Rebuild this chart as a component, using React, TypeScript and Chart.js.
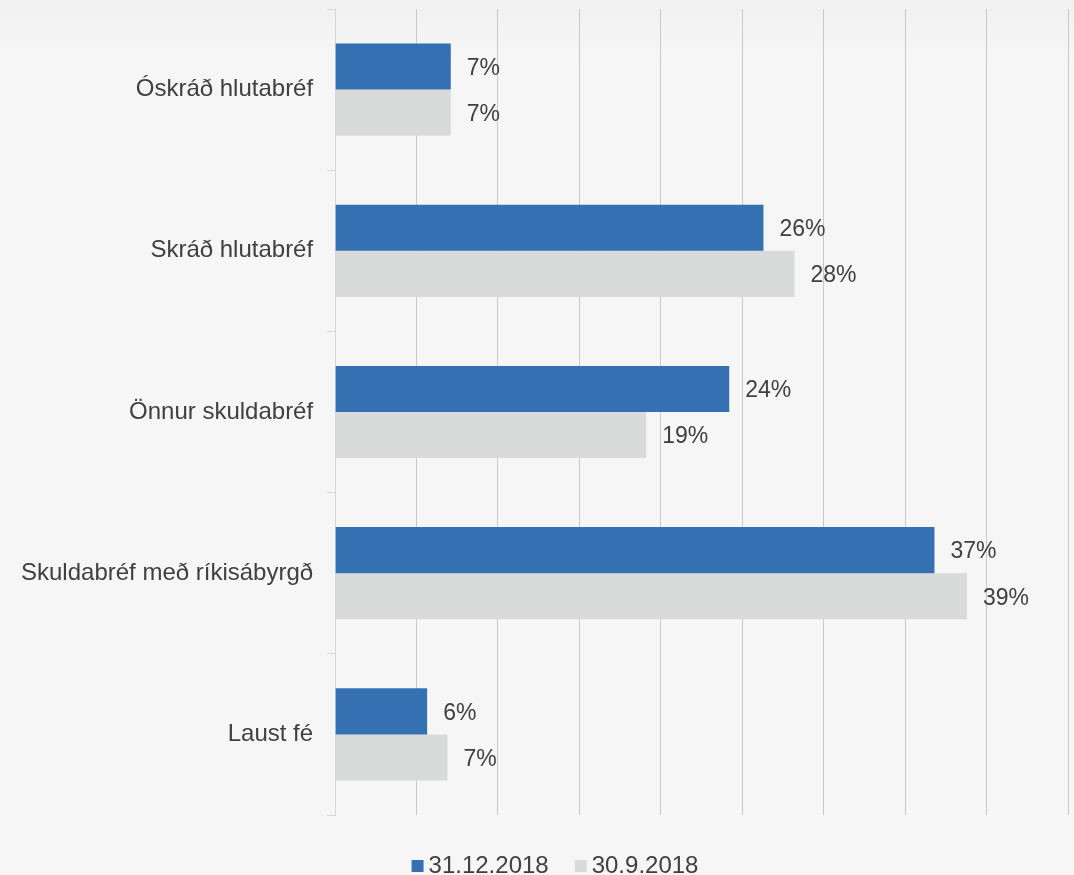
import React, { useEffect, useRef } from "react";
import { Chart, registerables } from "chart.js";

Chart.register(...registerables);

const categories = [
  "Óskráð hlutabréf",
  "Skráð hlutabréf",
  "Önnur skuldabréf",
  "Skuldabréf með ríkisábyrgð",
  "Laust fé",
];
const seriesDec = [7.1, 26.3, 24.2, 36.8, 5.65];
const seriesSep = [7.1, 28.2, 19.1, 38.8, 6.9];
const seriesNames = ["31.12.2018", "30.9.2018"];

const FONT = "'Liberation Sans', Arial, sans-serif";
const TEXT = "#404040";

const labelPlugin = {
  id: "barValueLabels",
  afterDatasetsDraw(chart: any) {
    const ctx = chart.ctx;
    ctx.save();
    ctx.font = `23px ${FONT}`;
    ctx.fillStyle = TEXT;
    ctx.textAlign = "left";
    ctx.textBaseline = "middle";
    chart.data.datasets.forEach((ds: any, di: number) => {
      const meta = chart.getDatasetMeta(di);
      meta.data.forEach((el: any, i: number) => {
        const v = ds.data[i];
        ctx.fillText(Math.round(v) + "%", el.x + 16, el.y + 2);
      });
    });
    ctx.restore();
  },
};

const legendPlugin = {
  id: "bottomLegend",
  afterDraw(chart: any) {
    const ctx = chart.ctx;
    ctx.save();
    ctx.font = `24px ${FONT}`;
    ctx.textBaseline = "middle";
    ctx.textAlign = "left";
    const box = 12;
    const gapBoxText = 5;
    const gapItems = 26;
    const items = chart.data.datasets.map((ds: any) => ({
      label: ds.label,
      color: ds.backgroundColor,
      w: ctx.measureText(ds.label).width,
    }));
    const total = items.reduce(
      (s: number, it: any, i: number) => s + box + gapBoxText + it.w + (i > 0 ? gapItems : 0),
      0
    );
    let x = chart.width / 2 + 18 - total / 2;
    const cy = chart.height - 9;
    items.forEach((it: any) => {
      ctx.fillStyle = it.color;
      ctx.fillRect(x, cy - 6, box, box);
      x += box + gapBoxText;
      ctx.fillStyle = TEXT;
      ctx.fillText(it.label, x, cy);
      x += it.w + gapItems;
    });
    ctx.restore();
  },
};

export default function App() {
  const ref = useRef<HTMLCanvasElement>(null);
  useEffect(() => {
    document.body.style.margin = "0";
    const chart = new Chart(ref.current!, {
      type: "bar",
      data: {
        labels: categories,
        datasets: [
          {
            label: seriesNames[0],
            data: seriesDec,
            backgroundColor: "#3570b2",
            categoryPercentage: 0.572,
            barPercentage: 1,
          },
          {
            label: seriesNames[1],
            data: seriesSep,
            backgroundColor: "#d9dada",
            categoryPercentage: 0.572,
            barPercentage: 1,
          },
        ],
      },
      options: {
        indexAxis: "y",
        responsive: false,
        animation: false,
        layout: { padding: { left: 7, right: 6, top: 9, bottom: 60 } },
        scales: {
          x: {
            min: 0,
            max: 45,
            ticks: { display: false, stepSize: 5 },
            grid: { color: "#c9c9c9", drawTicks: false, lineWidth: 1 },
            border: { display: false },
          },
          y: {
            ticks: {
              color: TEXT,
              font: { family: FONT, size: 24 },
              padding: 14,
            },
            grid: {
              drawOnChartArea: false,
              drawTicks: true,
              tickLength: 8,
              color: "#d9d9d9",
              offset: true,
            },
            border: { display: true, color: "#d6d6d6" },
            afterFit(scale: any) {
              scale.paddingTop = 0;
              scale.paddingBottom = 0;
            },
          },
        },
        plugins: {
          legend: { display: false },
          tooltip: { enabled: false },
        },
      },
      plugins: [labelPlugin, legendPlugin],
    });
    return () => chart.destroy();
  }, []);
  return (
    <div
      style={{
        position: "absolute",
        left: 0,
        top: 0,
        width: 1074,
        height: 875,
        background: "linear-gradient(to bottom, #f1f1f1 0px, #f6f6f6 60px, #f6f6f6 100%)",
      }}
    >
      <canvas ref={ref} width={1074} height={875} />
    </div>
  );
}
